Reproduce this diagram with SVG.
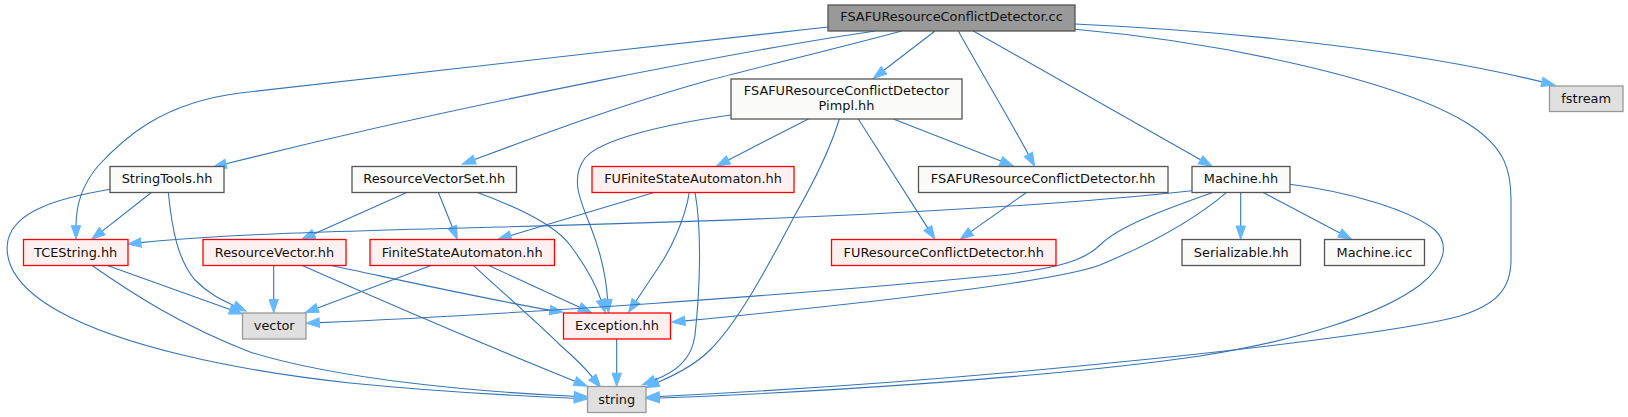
<svg xmlns="http://www.w3.org/2000/svg" width="1628" height="417" viewBox="0 0 1628 417">
<style>
  .n rect { stroke-width: 1.3; }
  .plain rect { fill: #fbfcfa; stroke: #555555; }
  .root rect { fill: #999999; stroke: #555555; }
  .red rect { fill: #fff0f0; stroke: #ff0000; }
  .ext rect { fill: #e0e0e0; stroke: #999999; }
  .n text { font-family: "DejaVu Sans", Verdana, sans-serif; font-size: 12.9px; fill: #111111; text-anchor: middle; }
  #edges path { fill: none; stroke: #3874b4; stroke-width: 1.1; marker-end: url(#arr); }
</style>
<defs>
  <marker id="arr" markerUnits="userSpaceOnUse" markerWidth="16" markerHeight="12" refX="0" refY="4.67" orient="auto" overflow="visible">
    <path d="M0,0 L13.3,4.67 L0,9.33 Z" fill="#63b8ff" stroke="#63b8ff" stroke-width="1"/>
  </marker>
</defs>
<rect width="1628" height="417" fill="#ffffff"/>
<g id="edges">
  <path d="M828,27 C640,48 330,82 240,93 C160,103 122,140 98,166 C82,185 76,205 76,225.7"/>
  <path d="M875,31 C760,48 480,100 226,163.8"/>
  <path d="M901.7,31 C850,45 780,62 710,80 C620,105 540,135 474.6,159.6"/>
  <path d="M935,31 L883.9,70.2"/>
  <path d="M958.3,31 C980,70 1010,120 1028.4,154.4"/>
  <path d="M973.3,31 L1200.5,159.8"/>
  <path d="M1075,24 C1250,32 1420,52 1542,81.9"/>
  <path d="M1075,29.3 C1220,42 1400,80 1470,125 C1505,148 1511,170 1511,200 L1511,260 C1511,290 1495,305 1460,316 C1380,338 1000,380 659.3,396.5"/>
  <path d="M808.3,119 L728.5,159.9"/>
  <path d="M839.3,119 C830,150 815,180 795,215 C770,262 740,320 710,350 C695,365 675,375 658,382.3"/>
  <path d="M858.3,119 L927.8,228.1"/>
  <path d="M893.3,119 L1000.9,161.1"/>
  <path d="M730.7,115 C660,125 600,140 585,158 C570,178 580,200 590,225 C600,250 606,275 607.6,299.5"/>
  <path d="M1026.7,192.3 L970.9,231.6"/>
  <path d="M655,192.3 L510.7,235.5"/>
  <path d="M689.3,192.3 C685,220 670,250 660,265 C650,280 642,292 635.9,301.2"/>
  <path d="M695,192.3 C702,230 700,290 695,335 C692,360 675,372 654.7,380"/>
  <path d="M407.3,192.3 L313.8,233.9"/>
  <path d="M438.3,192.3 L452.3,227"/>
  <path d="M476.7,192.3 C520,208 555,225 570,245 C585,265 595,282 601,300"/>
  <path d="M151.7,192.3 L102.2,231.1"/>
  <path d="M168.3,192.3 C172,230 178,260 195,280 C210,295 222,300 234,305.6"/>
  <path d="M110,189.3 C60,198 15,210 8,240 C3,265 20,290 60,312 C120,345 230,370 350,383 C450,393 520,396 574.2,398.3"/>
  <path d="M106.7,265.3 L230,309.5"/>
  <path d="M91.7,265.3 C130,292 180,325 250,352 C340,380 480,392 574.2,396.2"/>
  <path d="M273.7,265.3 L273.7,299.4"/>
  <path d="M330,265.3 C400,280 480,298 550,310.1"/>
  <path d="M301.7,265.3 C380,300 480,343 574.9,381.2"/>
  <path d="M431.7,265.3 L317.5,308"/>
  <path d="M488.3,265.3 L579.6,307.2"/>
  <path d="M473.3,265.3 C500,290 540,325 560,345 C575,358 585,368 592.4,377.2"/>
  <path d="M616.7,339 L616.7,373.2"/>
  <path d="M1240.7,192.3 L1240.7,226"/>
  <path d="M1262.7,192.3 L1339.9,233.1"/>
  <path d="M1191.7,190.7 C1000,212 700,222 500,227 C300,232 200,236 140.9,242.6"/>
  <path d="M1213.3,192.3 C1170,208 1120,225 1100,245 C1085,260 1060,268 1000,275 C800,295 500,315 319.3,322.6"/>
  <path d="M1226.7,192.3 C1200,215 1160,240 1100,265 C1060,280 900,300 684.9,320.9"/>
  <path d="M1290,184.3 C1350,192 1410,210 1435,230 C1450,245 1445,265 1420,285 C1380,315 1300,340 1200,356 C1050,378 800,393 659.3,398"/>
</g>
<g id="node-root" class="n root"><rect x="828" y="5" width="247" height="26"/><text x="951.5" y="21.3">FSAFUResourceConflictDetector.cc</text></g>
<g id="node-pimpl" class="n plain"><rect x="731" y="79" width="231" height="40"/><text x="846.5" y="95">FSAFUResourceConflictDetector</text><text x="846.5" y="109.5">Pimpl.hh</text></g>
<g id="node-stringtools" class="n plain"><rect x="110" y="166.5" width="114" height="26"/><text x="167" y="183">StringTools.hh</text></g>
<g id="node-resourcevectorset" class="n plain"><rect x="352" y="166.5" width="164.5" height="26"/><text x="434.2" y="183">ResourceVectorSet.hh</text></g>
<g id="node-fufsa" class="n red"><rect x="592" y="166.5" width="202" height="26"/><text x="693" y="183">FUFiniteStateAutomaton.hh</text></g>
<g id="node-fsafurcd" class="n plain"><rect x="918.5" y="166.5" width="249.5" height="26"/><text x="1043.2" y="183">FSAFUResourceConflictDetector.hh</text></g>
<g id="node-machine" class="n plain"><rect x="1192" y="166.5" width="98" height="26"/><text x="1241" y="183">Machine.hh</text></g>
<g id="node-fstream" class="n ext"><rect x="1549.5" y="86" width="73.5" height="25.5"/><text x="1586.2" y="102.5">fstream</text></g>
<g id="node-tcestring" class="n red"><rect x="23.5" y="239.5" width="104.5" height="26"/><text x="75.7" y="256.8">TCEString.hh</text></g>
<g id="node-resourcevector" class="n red"><rect x="203" y="239.5" width="143" height="26"/><text x="274.5" y="256.8">ResourceVector.hh</text></g>
<g id="node-fsa" class="n red"><rect x="370" y="239.5" width="184.5" height="26"/><text x="462.2" y="256.8">FiniteStateAutomaton.hh</text></g>
<g id="node-furcd" class="n red"><rect x="831.5" y="239.5" width="224.5" height="26"/><text x="943.7" y="256.8">FUResourceConflictDetector.hh</text></g>
<g id="node-serializable" class="n plain"><rect x="1182" y="239.5" width="118.5" height="26"/><text x="1241.2" y="256.8">Serializable.hh</text></g>
<g id="node-machineicc" class="n plain"><rect x="1324.5" y="239.5" width="100" height="26"/><text x="1374.5" y="256.8">Machine.icc</text></g>
<g id="node-vector" class="n ext"><rect x="242.5" y="313" width="63.5" height="26"/><text x="274.2" y="330.3">vector</text></g>
<g id="node-exception" class="n red"><rect x="563.5" y="313" width="107" height="26"/><text x="617" y="330.3">Exception.hh</text></g>
<g id="node-string" class="n ext"><rect x="587.5" y="386.5" width="58.5" height="26"/><text x="616.7" y="403.8">string</text></g>
</svg>
